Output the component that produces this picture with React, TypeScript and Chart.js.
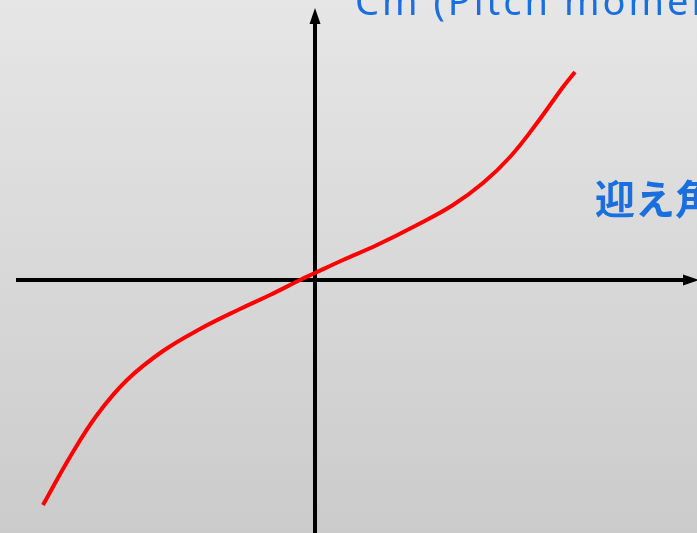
import React, { useEffect, useRef } from "react";
import { Chart, registerables } from "chart.js";

Chart.register(...registerables);

// Angle of attack (schematic units) and pitch-moment coefficient Cm (schematic units)
const alpha = [-27.2, -24.5, -21.8, -18.8, -15.2, -11.5, -7.5, -4.5, -1.5, 0, 2.8, 6.2, 10.2, 13.8, 16.8, 19.5, 22.2, 24.8, 26.0];
const cm = [-22.5, -17.7, -13.5, -10.0, -7.1, -4.9, -2.9, -1.5, 0.0, 0.7, 2.0, 3.5, 5.5, 7.5, 9.7, 12.3, 15.7, 19.3, 20.8];

const yAxisTitle = "Cm (Pitch moment)";
const xAxisTitle = "迎え角";

// axis ranges (schematic units)
const xRange = [-31.5, 38.2];
const yRange = [-25.3, 28.0];
const xAxisLine = [-29.9, 38.4];
const yAxisLine = [-25.3, 27.2];

const bgPlugin = {
  id: "bg",
  beforeDraw(chart: any) {
    const { ctx, width, height } = chart;
    const g = ctx.createLinearGradient(0, 0, 0, height);
    g.addColorStop(0, "#e6e6e6");
    g.addColorStop(1, "#cbcbcb");
    ctx.save();
    ctx.fillStyle = g;
    ctx.fillRect(0, 0, width, height);
    ctx.restore();
  },
};

const axesPlugin = {
  id: "axesArrows",
  beforeDatasetsDraw(chart: any) {
    const { ctx } = chart;
    const xs = chart.scales.x;
    const ys = chart.scales.y;
    const x0 = xs.getPixelForValue(0);
    const y0 = ys.getPixelForValue(0);
    const head = 16;
    const half = 5.5;
    ctx.save();
    ctx.strokeStyle = "#000";
    ctx.fillStyle = "#000";
    ctx.lineWidth = 4;
    // x axis
    const xa = xs.getPixelForValue(xAxisLine[0]);
    const xb = xs.getPixelForValue(xAxisLine[1]);
    ctx.beginPath();
    ctx.moveTo(xa, y0);
    ctx.lineTo(xb - head + 1, y0);
    ctx.stroke();
    ctx.beginPath();
    ctx.moveTo(xb, y0);
    ctx.lineTo(xb - head, y0 - half);
    ctx.lineTo(xb - head, y0 + half);
    ctx.closePath();
    ctx.fill();
    // y axis
    const ya = ys.getPixelForValue(yAxisLine[0]);
    const yb = ys.getPixelForValue(yAxisLine[1]);
    ctx.beginPath();
    ctx.moveTo(x0, ya);
    ctx.lineTo(x0, yb + head - 1);
    ctx.stroke();
    ctx.beginPath();
    ctx.moveTo(x0, yb);
    ctx.lineTo(x0 - half, yb + head);
    ctx.lineTo(x0 + half, yb + head);
    ctx.closePath();
    ctx.fill();
    ctx.restore();
  },
  afterDraw(chart: any) {
    const { ctx } = chart;
    const xs = chart.scales.x;
    const ys = chart.scales.y;
    const x0 = xs.getPixelForValue(0);
    const y0 = ys.getPixelForValue(0);
    ctx.save();
    ctx.fillStyle = "#1a6fdf";
    ctx.textBaseline = "alphabetic";
    ctx.textAlign = "left";
    ctx.font = "38px 'Noto Sans', sans-serif";
    (ctx as any).letterSpacing = "3px";
    ctx.fillText(yAxisTitle, x0 + 40, 15);
    (ctx as any).letterSpacing = "0px";
    ctx.font = "bold 40px 'Noto Sans CJK JP', sans-serif";
    ctx.fillText(xAxisTitle, x0 + 280, y0 - 66);
    ctx.restore();
  },
};

export default function App() {
  const ref = useRef<HTMLCanvasElement | null>(null);
  useEffect(() => {
    if (!ref.current) return;
    const chart = new Chart(ref.current, {
      type: "line",
      data: {
        datasets: [
          {
            data: alpha.map((a, i) => ({ x: a, y: cm[i] })),
            borderColor: "#ff0000",
            borderWidth: 4,
            pointRadius: 0,
            tension: 0.4,
            fill: false,
          },
        ],
      },
      options: {
        animation: false,
        responsive: false,
        devicePixelRatio: 1,
        layout: { padding: 0 },
        plugins: { legend: { display: false }, tooltip: { enabled: false }, title: { display: false } },
        scales: {
          x: { type: "linear", min: xRange[0], max: xRange[1], display: false },
          y: { type: "linear", min: yRange[0], max: yRange[1], display: false },
        },
      },
      plugins: [bgPlugin, axesPlugin],
    });
    return () => chart.destroy();
  }, []);
  return (
    <div style={{ position: "fixed", left: 0, top: 0, width: 697, height: 533 }}>
      <canvas ref={ref} width={697} height={533} style={{ display: "block" }} />
    </div>
  );
}
